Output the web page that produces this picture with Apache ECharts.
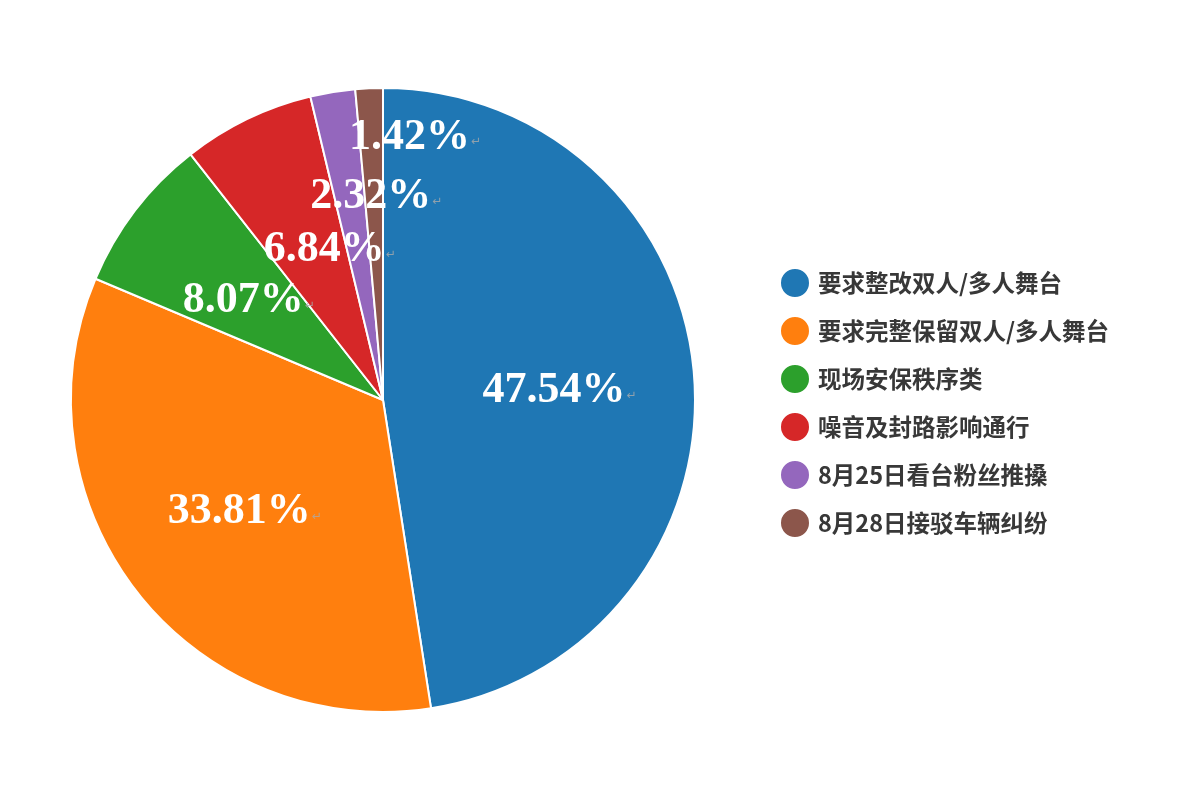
<!DOCTYPE html>
<html>
<head>
<meta charset="utf-8">
<script src="https://cdn.jsdelivr.net/npm/echarts@6/dist/echarts.min.js"></script>
<style>
html,body{margin:0;padding:0;background:#fff;}
#c{width:1179px;height:806px;}
</style>
</head>
<body>
<div id="c"></div>
<script>
var categories = ['要求整改双人/多人舞台', '要求完整保留双人/多人舞台', '现场安保秩序类', '噪音及封路影响通行', '8月25日看台粉丝推搡', '8月28日接驳车辆纠纷'];
var values = [47.54, 33.81, 8.07, 6.84, 2.32, 1.42];
var colors = ['#1f77b4', '#ff7f0e', '#2ca02c', '#d62728', '#9467bd', '#8c564b'];

var labelShift = [[18, 3], [-13, 14], [-8, -3], [16, -7], [19, -46], [39, -104]];

var chart = echarts.init(document.getElementById('c'));
chart.setOption({
  backgroundColor: '#ffffff',
  color: colors,
  animation: false,
  legend: {
    orient: 'vertical',
    left: 779,
    top: 267,
    padding: 0,
    icon: 'circle',
    itemWidth: 30,
    itemHeight: 30,
    itemGap: 16,
    textStyle: {
      fontFamily: 'Noto Sans CJK SC',
      fontSize: 23.5,
      lineHeight: 30,
      fontWeight: 'bold',
      color: '#383838',
      padding: [0, 0, 0, 3]
    },
    data: categories
  },
  series: [{
    type: 'pie',
    center: [383, 400],
    radius: [0, 312],
    startAngle: 90,
    clockwise: true,
    avoidLabelOverlap: false,
    itemStyle: { borderColor: '#ffffff', borderWidth: 2 },
    label: {
      show: true,
      position: 'inside',
      formatter: function (p) { return '{v|' + p.value.toFixed(2) + '%}{m|↵}'; },
      rich: {
        v: { fontFamily: 'Liberation Serif', fontWeight: 'bold', fontSize: 44, color: '#ffffff' },
        m: { fontFamily: 'DejaVu Sans', fontSize: 12, color: 'rgba(170,170,170,0.8)', padding: [10, 0, 0, 1] }
      }
    },
    labelLine: { show: false },
    labelLayout: function (p) {
      var s = labelShift[p.dataIndex];
      return { dx: s[0], dy: s[1] };
    },
    data: categories.map(function (n, i) { return { name: n, value: values[i] }; })
  }]
});
</script>
</body>
</html>
